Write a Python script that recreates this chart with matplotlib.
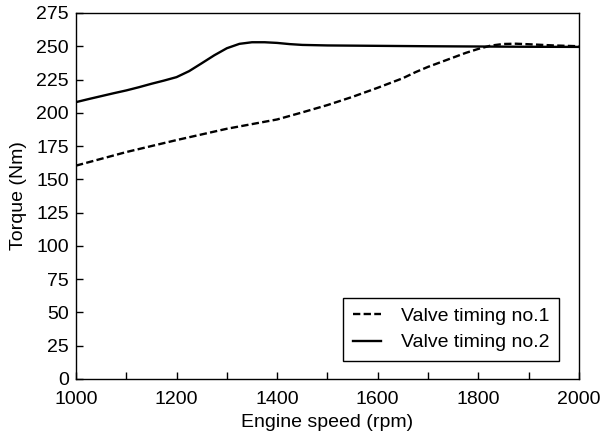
import numpy as np
import matplotlib
matplotlib.use("Agg")
import matplotlib.pyplot as plt
from matplotlib.ticker import MultipleLocator

plt.rcParams['font.family'] = ['Liberation Sans', 'DejaVu Sans']

# readings
rpm_no1 = [1000, 1100, 1200, 1300, 1400, 1450, 1500, 1550, 1600, 1650, 1675,
           1700, 1725, 1750, 1775, 1800, 1825, 1850, 1875, 1900, 1950, 2000]
timing_no1 = [160.3, 170.5, 179.5, 188, 195, 200.3, 205.8, 212, 218.8, 226,
              230.5, 234.5, 238, 241.5, 245, 248, 250.5, 251.7, 251.9, 251.5,
              250.6, 250]

rpm_no2 = [1000, 1025, 1050, 1075, 1100, 1125, 1150, 1175, 1200, 1225, 1250,
           1275, 1300, 1325, 1350, 1375, 1400, 1425, 1450, 1500, 1600, 1700,
           1800, 1900, 2000]
timing_no2 = [208, 210.3, 212.5, 214.7, 216.8, 219.2, 221.8, 224.2, 226.8,
              231.3, 237.2, 243.2, 248.5, 251.8, 253, 253, 252.5, 251.6, 251,
              250.6, 250.3, 250, 249.8, 249.6, 249.5]

fig = plt.figure(figsize=(6.03, 4.41), dpi=100)
ax = fig.add_axes([0.126, 0.1406, 0.834, 0.830])

ax.plot(rpm_no1, timing_no1, color='black', lw=1.7,
        linestyle=(0, (3.1, 1.4)), label='Valve timing no.1')
ax.plot(rpm_no2, timing_no2, color='black', lw=1.7, label='Valve timing no.2')

ax.set_xlim(1000, 2000)
ax.set_ylim(0, 275)
ax.xaxis.set_major_locator(MultipleLocator(200))
ax.xaxis.set_minor_locator(MultipleLocator(100))
ax.yaxis.set_major_locator(MultipleLocator(25))
ax.tick_params(which='both', direction='in', labelsize=14, width=1, length=5)
ax.tick_params(axis='x', which='both', pad=9)
ax.tick_params(axis='y', which='both', pad=5)
for s in ax.spines.values():
    s.set_linewidth(1)

ax.set_xlabel('Engine speed (rpm)', fontsize=14, labelpad=4)
ax.set_ylabel('Torque (Nm)', fontsize=14, labelpad=7)

leg = ax.legend(loc='lower right', bbox_to_anchor=(0.960, 0.049),
                borderaxespad=0, fontsize=14, fancybox=False,
                edgecolor='black', framealpha=1, handlelength=1.45,
                handletextpad=1.0, borderpad=0.5, labelspacing=0.45)
leg.get_frame().set_linewidth(1)

fig.savefig('out.png', dpi=100)
